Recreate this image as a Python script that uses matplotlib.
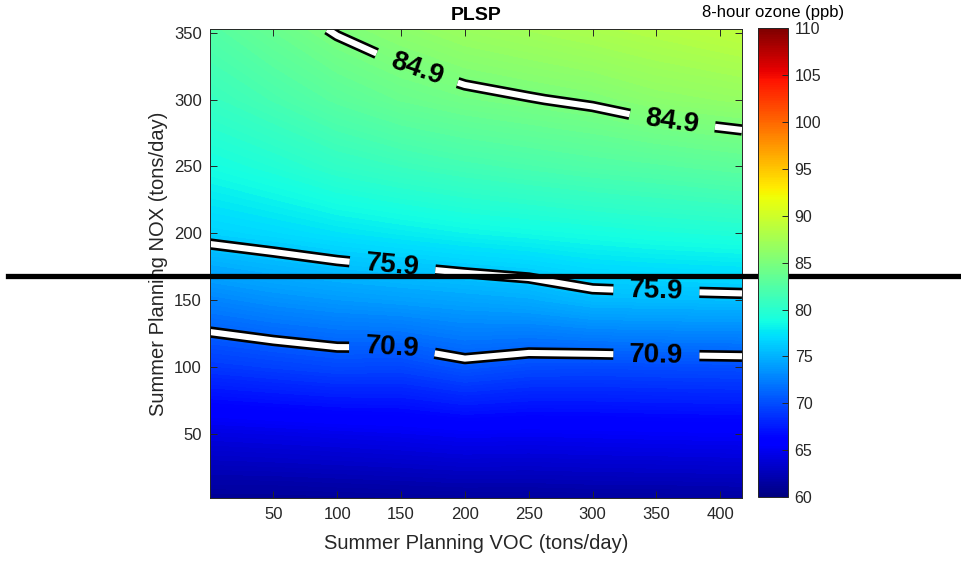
import matplotlib
matplotlib.use('Agg')
import matplotlib.pyplot as plt
import matplotlib.patheffects as pe
import numpy as np
from matplotlib.cm import ScalarMappable
from matplotlib.colors import Normalize

# summer planning emissions grid (tons/day)
voc = [0, 50, 100, 150, 200, 250, 300, 350, 417]
nox = [2, 50, 100, 150, 200, 250, 300, 352.5]

# 8-hour ozone (ppb), one row per NOX value
ozone = [
    [61.0, 61.0, 61.1, 61.2, 61.3, 61.3, 61.4, 61.4, 61.5],
    [64.3, 64.5, 64.7, 64.9, 65.2, 65.1, 65.2, 65.3, 65.4],
    [68.9, 69.3, 69.7, 69.6, 70.4, 69.9, 69.8, 69.9, 70.0],
    [72.7, 73.3, 73.7, 74.0, 74.3, 74.6, 75.3, 75.4, 75.5],
    [76.5, 76.9, 77.4, 77.8, 78.2, 78.5, 78.8, 79.1, 79.4],
    [78.8, 79.5, 80.4, 81.0, 81.5, 81.9, 82.3, 82.6, 83.1],
    [80.8, 81.8, 82.9, 83.8, 84.4, 84.8, 85.2, 85.9, 86.4],
    [82.5, 83.8, 85.1, 86.0, 86.8, 87.3, 87.8, 88.3, 89.0],
]

contour_levels = [70.9, 75.9, 84.9]
label_spots = [(162, 322), (362, 281), (143, 173), (350, 158), (143, 111), (350, 111)]
nox_limit = 168.4

plt.rcParams['font.family'] = ['Liberation Sans', 'DejaVu Sans']
text_color = '#262626'

fig = plt.figure(figsize=(9.62, 5.63), dpi=100)
ax = fig.add_axes([0.2183, 0.1149, 0.553, 0.833])
cax = fig.add_axes([0.7877, 0.117, 0.0312, 0.833])

X, Y = np.meshgrid(voc, nox)
Z = np.array(ozone)

cf = ax.contourf(X, Y, Z, levels=np.arange(60, 110.01, 0.25), cmap='jet',
                 vmin=60, vmax=110, antialiased=False)
cf.set_edgecolor('face')
cf.set_linewidth(0.4)

cs = ax.contour(X, Y, Z, levels=contour_levels, colors='white', linewidths=4.4)
cs.set_path_effects([pe.Stroke(linewidth=8.2, foreground='black'), pe.Normal()])
ax.clabel(cs, fmt='%.1f', inline=True, inline_spacing=16, manual=label_spots,
          colors='black', fontsize=20)
for t in cs.labelTexts:
    t.set_fontweight('bold')

ax.set_xlim(0.4, 417)
ax.set_ylim(2, 352.5)
ax.set_xticks(np.arange(50, 401, 50))
ax.set_yticks(np.arange(50, 351, 50))
ax.tick_params(direction='in', top=True, right=True, length=5, width=0.7,
               labelsize=12, colors=text_color, pad=6)
for s in ax.spines.values():
    s.set_color(text_color)
    s.set_linewidth(0.7)

ax.set_xlabel('Summer Planning VOC (tons/day)', fontsize=14.5, color=text_color, labelpad=9)
ax.set_ylabel('Summer Planning NOX (tons/day)', fontsize=14.5, color=text_color, labelpad=4)
ax.set_title('PLSP', fontsize=14, fontweight='bold', pad=7)

sm = ScalarMappable(norm=Normalize(60, 110), cmap='jet')
cb = fig.colorbar(sm, cax=cax, ticks=np.arange(60, 111, 5))
cax.tick_params(direction='in', length=4, width=0.7, labelsize=11.5, colors=text_color, pad=5)
cb.outline.set_edgecolor(text_color)
cb.outline.set_linewidth(0.7)
cax.set_title('8-hour ozone (ppb)', fontsize=12, color='black', pad=8)

# threshold line running across the whole figure
ax.axhline(nox_limit, xmin=-0.38, xmax=1.43, color='black', linewidth=3.8, clip_on=False, zorder=10)

fig.savefig('out.png', dpi=100)
plt.close(fig)
